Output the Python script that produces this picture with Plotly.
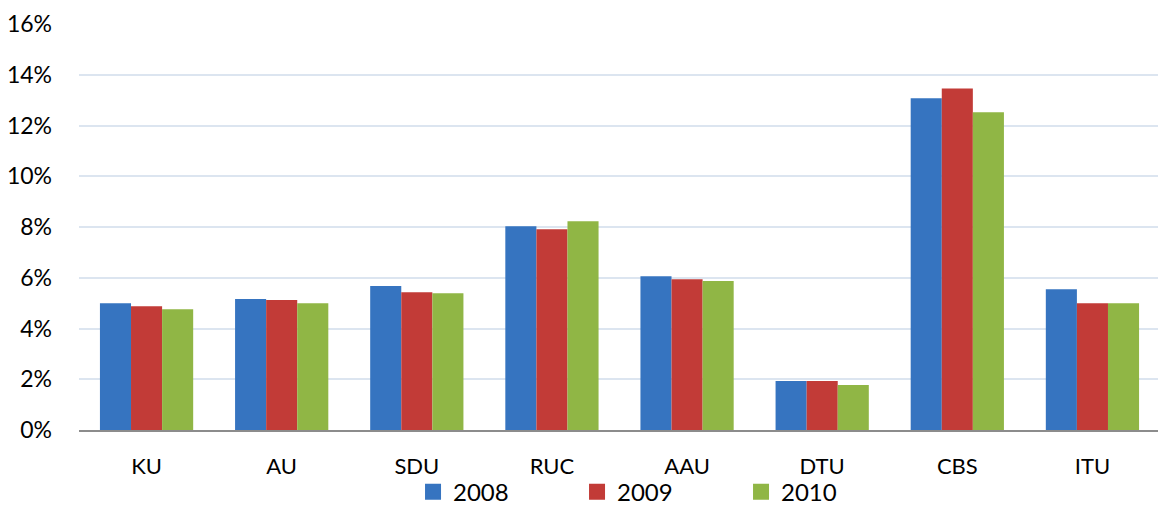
import plotly.graph_objects as go

categories = ["KU", "AU", "SDU", "RUC", "AAU", "DTU", "CBS", "ITU"]
years = ["2008", "2009", "2010"]
v2008 = [0.0500, 0.0516, 0.0567, 0.0803, 0.0606, 0.0193, 0.1307, 0.0555]
v2009 = [0.0488, 0.0512, 0.0543, 0.0791, 0.0594, 0.0193, 0.1346, 0.0500]
v2010 = [0.0476, 0.0500, 0.0539, 0.0823, 0.0587, 0.0177, 0.1252, 0.0500]
colors = ["#3674C0", "#C23B37", "#90B645"]

FONT = "Lato"
fig = go.Figure()
for name, vals, col in zip(years, [v2008, v2009, v2010], colors):
    fig.add_trace(go.Bar(x=categories, y=vals, name=name, marker=dict(color=col, line=dict(width=0)),
                         showlegend=False))
for name, col in zip(years, colors):
    fig.add_trace(go.Scatter(x=[None], y=[None], mode="markers", name=name,
                             marker=dict(symbol="square", size=17, color=col)))

# page body has an 8px default margin, so the figure is sized to fill the rest of the window
fig.update_layout(
    width=1158, height=498,
    margin=dict(l=71, r=6, t=16, b=76, autoexpand=False),
    plot_bgcolor="white", paper_bgcolor="white",
    barmode="group", bargap=0.31, bargroupgap=0,
    font=dict(family=FONT, size=22, color="#000000"),
    legend=dict(orientation="h", x=0.309, xanchor="left", yref="container", y=0.028,
                yanchor="middle",
                font=dict(size=24, family=FONT), entrywidth=119, entrywidthmode="pixels",
                itemwidth=30, tracegroupgap=0, bgcolor="rgba(0,0,0,0)",
                borderwidth=0),
    xaxis=dict(showgrid=False, showline=True, linecolor="#8C8C8C", linewidth=2,
               ticks="", ticklabelstandoff=16, tickfont=dict(size=22), automargin=False),
    yaxis=dict(range=[0, 0.16], dtick=0.02, tickformat=".0%", showgrid=True,
               gridcolor="#DCE5F0", gridwidth=2, zeroline=False, showline=False,
               ticks="", ticklabelstandoff=26, tickfont=dict(size=23), automargin=False),
)

fig.write_html("out.html")
